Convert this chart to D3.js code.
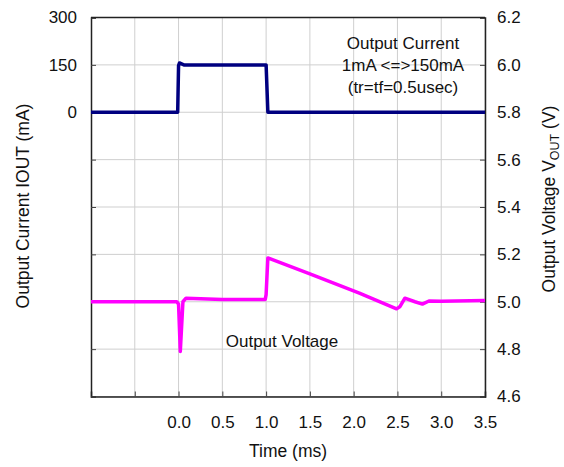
<!DOCTYPE html>
<html>
<head>
<meta charset="utf-8">
<script src="https://cdn.jsdelivr.net/npm/d3@7"></script>
<style>
  body { margin: 0; background: #fff; }
  text { font-family: "Liberation Sans", Arial, sans-serif; fill: #111; }
</style>
</head>
<body>
<div id="chart"></div>
<script>
// time axis ticks (ms)
const timeTicks = [-0.5, 0.0, 0.5, 1.0, 1.5, 2.0, 2.5, 3.0, 3.5];
const timeLabels = ["", "0.0", "0.5", "1.0", "1.5", "2.0", "2.5", "3.0", "3.5"];

// left axis (current, mA)
const curTicks = [300, 150, 0, -150, -300, -450, -600, -750, -900];
const curLabels = ["300", "150", "0", "", "", "", "", "", ""];

// right axis (voltage, V)
const voltTicks = [6.2, 6.0, 5.8, 5.6, 5.4, 5.2, 5.0, 4.8, 4.6];

// output current trace
const curTime = [-1.0, -0.01, 0.0, 0.01, 0.06, 0.5, 1.0, 1.02, 1.06, 2.0, 3.5];
const curVal  = [0, 0, 148, 156, 150, 150, 150, 0, 0, 0, 0];

// output voltage trace
const voltTime = [-1.0, -0.02, 0.0, 0.02, 0.05, 0.085, 0.5, 0.99, 1.0, 1.02, 1.5, 2.065, 2.49, 2.53, 2.585, 2.7, 2.785, 2.86, 3.0, 3.5];
const voltVal  = [5.0, 5.0, 4.99, 4.79, 5.0, 5.015, 5.01, 5.01, 5.03, 5.185, 5.118, 5.036, 4.97, 4.98, 5.015, 5.0, 4.99, 5.003, 5.002, 5.005];

const W = 564, H = 467;
const margin = {left: 91, right: 79, top: 17.5, bottom: 70.5};
const w = W - margin.left - margin.right;
const h = H - margin.top - margin.bottom;
const fs = 17;

const svg = d3.select("#chart").append("svg")
    .attr("width", W)
    .attr("height", H);

const g = svg.append("g")
    .attr("transform", `translate(${margin.left},${margin.top})`);

const x = d3.scaleLinear().domain([-1.0, 3.5]).range([0, w]);
const yCur = d3.scaleLinear().domain([-900, 300]).range([h, 0]);
const yVolt = d3.scaleLinear().domain([4.6, 6.2]).range([h, 0]);

// grid
g.append("g").selectAll("line.vg")
    .data(timeTicks)
    .enter().append("line")
    .attr("x1", d => x(d)).attr("x2", d => x(d))
    .attr("y1", 0).attr("y2", h)
    .attr("stroke", "#cfcfcf").attr("stroke-width", 1);

g.append("g").selectAll("line.hg")
    .data(voltTicks)
    .enter().append("line")
    .attr("x1", 0).attr("x2", w)
    .attr("y1", d => yVolt(d)).attr("y2", d => yVolt(d))
    .attr("stroke", "#cfcfcf").attr("stroke-width", 1);

// axes
const xAxis = g.append("g")
    .attr("transform", `translate(0,${h})`)
    .call(d3.axisBottom(x).tickValues(timeTicks).tickSize(-5).tickPadding(19.5)
        .tickFormat((d, i) => timeLabels[i]));

const leftAxis = g.append("g")
    .call(d3.axisLeft(yCur).tickValues(curTicks).tickSize(-5).tickPadding(14)
        .tickFormat((d, i) => curLabels[i]));

const rightAxis = g.append("g")
    .attr("transform", `translate(${w},0)`)
    .call(d3.axisRight(yVolt).tickValues(voltTicks).tickSize(-5).tickPadding(12)
        .tickFormat(d3.format(".1f")));

[xAxis, leftAxis, rightAxis].forEach(a => {
    a.select(".domain").attr("stroke", "#222").attr("stroke-width", 1.5);
    a.selectAll(".tick line").attr("stroke", "#444");
    a.selectAll("text").attr("font-size", fs).attr("fill", "#111")
        .style("font-family", "'Liberation Sans', Arial, sans-serif");
});

// top border
g.append("line")
    .attr("x1", 0).attr("x2", w).attr("y1", 0).attr("y2", 0)
    .attr("stroke", "#222").attr("stroke-width", 1.5);

// traces
const curLine = d3.line()
    .x((d, i) => x(curTime[i]))
    .y(d => yCur(d));

const voltLine = d3.line()
    .x((d, i) => x(voltTime[i]))
    .y(d => yVolt(d));

g.append("path")
    .attr("d", voltLine(voltVal))
    .attr("fill", "none")
    .attr("stroke", "#ff00ff")
    .attr("stroke-width", 3.5)
    .attr("stroke-linejoin", "round");

g.append("path")
    .attr("d", curLine(curVal))
    .attr("fill", "none")
    .attr("stroke", "#000080")
    .attr("stroke-width", 3.5)
    .attr("stroke-linejoin", "round");

// annotations
const note = g.append("text")
    .attr("text-anchor", "middle")
    .attr("font-size", fs);
["Output Current", "1mA <=>150mA", "(tr=tf=0.5usec)"].forEach((s, i) => {
    note.append("tspan")
        .attr("x", 312).attr("y", 31.5 + i * 22)
        .text(s);
});

g.append("text")
    .attr("x", 191).attr("y", 329)
    .attr("text-anchor", "middle")
    .attr("font-size", fs)
    .text("Output Voltage");

// axis titles
svg.append("text")
    .attr("x", 288).attr("y", 457)
    .attr("text-anchor", "middle")
    .attr("font-size", 17.5)
    .text("Time (ms)");

svg.append("text")
    .attr("transform", `translate(29,206) rotate(-90)`)
    .attr("text-anchor", "middle")
    .attr("font-size", 17.5)
    .text("Output Current IOUT (mA)");

const rt = svg.append("text")
    .attr("transform", `translate(555,199) rotate(-90)`)
    .attr("text-anchor", "middle")
    .attr("font-size", 17.5);
rt.append("tspan").text("Output Voltage V");
rt.append("tspan").attr("font-size", 12.5).attr("dy", 4).text("OUT");
rt.append("tspan").attr("dy", -4).text(" (V)");
</script>
</body>
</html>
